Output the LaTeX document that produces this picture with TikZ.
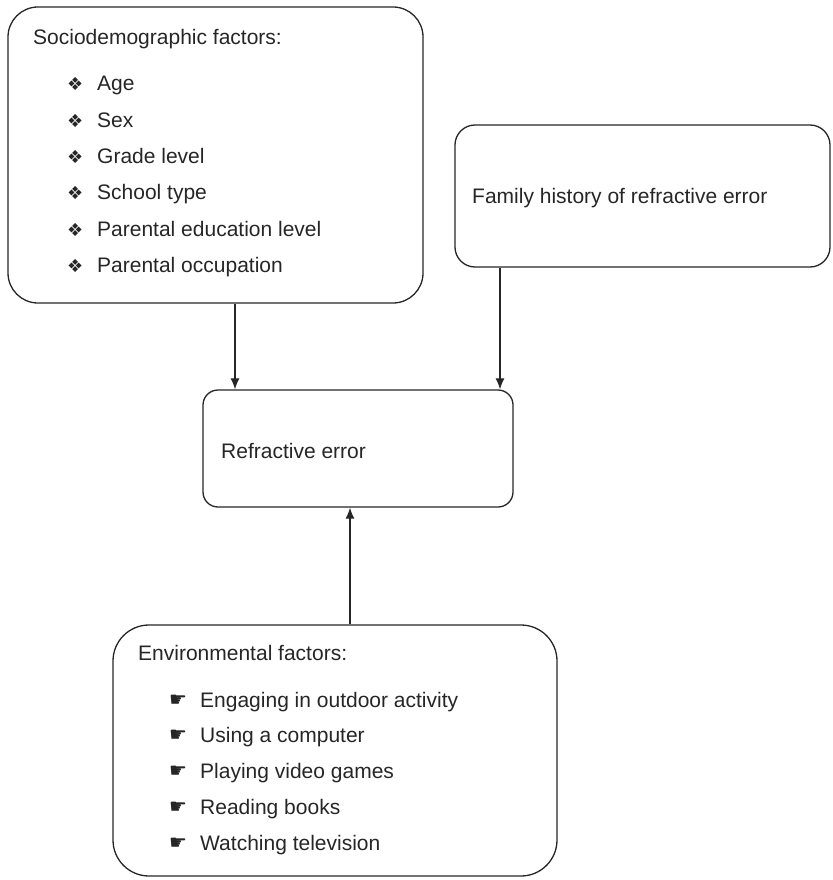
\documentclass[tikz,border=0pt]{standalone}
\usepackage{fontspec}
\setmainfont{Liberation Sans}
\newfontfamily\symfont{DejaVu Sans}
\usetikzlibrary{arrows.meta}
\newcommand{\dia}{\makebox[30pt][l]{\symfont\fontsize{18}{18}\selectfont ❖}}
\newcommand{\hand}{\makebox[31pt][l]{\raisebox{1pt}{\symfont\fontsize{20}{20}\selectfont ☛}}}
\begin{document}
\begin{tikzpicture}[x=1pt,y=-1pt,
  box/.style={draw=black!85, line width=1.3pt, inner sep=0pt},
  txt/.style={anchor=base west, inner sep=0pt, font=\fontsize{21}{25}\selectfont, text=black!85},
  arr/.style={draw=black!85, line width=1.2pt, -{Latex[length=11pt,width=9pt]}}
]
\useasboundingbox (0,0) rectangle (832,880);
% boxes
\node[box, rounded corners=30pt, minimum width=415pt, minimum height=296pt] (socio) at (215.5,155) {};
\node[box, rounded corners=20pt, minimum width=375pt, minimum height=142pt] (family) at (642.5,196) {};
\node[box, rounded corners=15pt, minimum width=310pt, minimum height=117pt] (refr) at (358,448.5) {};
\node[box, rounded corners=36pt, minimum width=444pt, minimum height=251pt] (env) at (335,750.5) {};
% texts
\node[txt] (st) at (33,45) {Sociodemographic factors:};
\node[txt] (s1) at (67,91) {\dia Age};
\node[txt] (s2) at (67,127.5) {\dia Sex};
\node[txt] (s3) at (67,163.5) {\dia Grade level};
\node[txt] (s4) at (67,199.5) {\dia School type};
\node[txt] (s5) at (67,236) {\dia Parental education level};
\node[txt] (s6) at (67,272) {\dia Parental occupation};
\node[txt] (ft) at (472,203) {Family history of refractive error};
\node[txt] (rt) at (221,458) {Refractive error};
\node[txt] (et) at (138,660) {Environmental factors:};
\node[txt] (e1) at (169,707) {\hand Engaging in outdoor activity};
\node[txt] (e2) at (169,742.5) {\hand Using a computer};
\node[txt] (e3) at (169,778.5) {\hand Playing video games};
\node[txt] (e4) at (169,814) {\hand Reading books};
\node[txt] (e5) at (169,850) {\hand Watching television};
% connectors
\coordinate (xa) at (235,0);
\coordinate (xb) at (500,0);
\coordinate (xc) at (350,0);
\draw[arr] (socio.south -| xa) -- (refr.north -| xa);
\draw[arr] (family.south -| xb) -- (refr.north -| xb);
\draw[arr] (env.north -| xc) -- (refr.south -| xc);
\end{tikzpicture}
\end{document}
